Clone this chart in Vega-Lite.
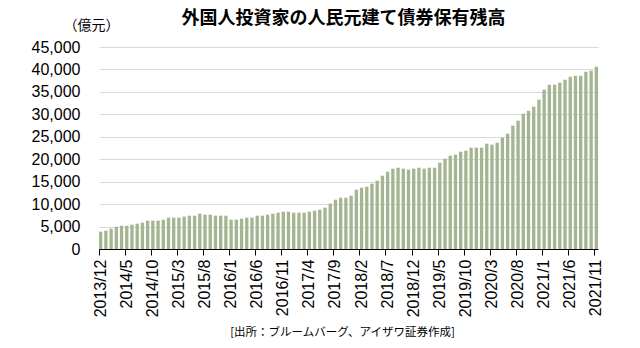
{
  "$schema": "https://vega.github.io/schema/vega-lite/v6.json",
  "autosize": {"type": "none"},
  "width": 499,
  "height": 202,
  "padding": {"left": 99, "top": 47, "right": 42, "bottom": 99},
  "background": "white",
  "title": {
    "text": "外国人投資家の人民元建て債券保有残高",
    "font": "Noto Sans CJK JP",
    "fontSize": 18,
    "fontWeight": "bold",
    "color": "#000000",
    "anchor": "middle",
    "frame": "group",
    "dx": -5,
    "dy": 24,
    "offset": 14
  },
  "data": {
    "values": [
      {"month": "2013/12", "value": 3860},
      {"month": "2014/1", "value": 4080},
      {"month": "2014/2", "value": 4530},
      {"month": "2014/3", "value": 4970},
      {"month": "2014/4", "value": 5200},
      {"month": "2014/5", "value": 5200},
      {"month": "2014/6", "value": 5420},
      {"month": "2014/7", "value": 5640},
      {"month": "2014/8", "value": 5860},
      {"month": "2014/9", "value": 6310},
      {"month": "2014/10", "value": 6310},
      {"month": "2014/11", "value": 6310},
      {"month": "2014/12", "value": 6530},
      {"month": "2015/1", "value": 6980},
      {"month": "2015/2", "value": 6980},
      {"month": "2015/3", "value": 6980},
      {"month": "2015/4", "value": 7200},
      {"month": "2015/5", "value": 7420},
      {"month": "2015/6", "value": 7420},
      {"month": "2015/7", "value": 7870},
      {"month": "2015/8", "value": 7650},
      {"month": "2015/9", "value": 7650},
      {"month": "2015/10", "value": 7420},
      {"month": "2015/11", "value": 7420},
      {"month": "2015/12", "value": 7420},
      {"month": "2016/1", "value": 6530},
      {"month": "2016/2", "value": 6530},
      {"month": "2016/3", "value": 6760},
      {"month": "2016/4", "value": 6980},
      {"month": "2016/5", "value": 6980},
      {"month": "2016/6", "value": 7420},
      {"month": "2016/7", "value": 7420},
      {"month": "2016/8", "value": 7650},
      {"month": "2016/9", "value": 7870},
      {"month": "2016/10", "value": 8090},
      {"month": "2016/11", "value": 8310},
      {"month": "2016/12", "value": 8310},
      {"month": "2017/1", "value": 8090},
      {"month": "2017/2", "value": 8090},
      {"month": "2017/3", "value": 8090},
      {"month": "2017/4", "value": 8310},
      {"month": "2017/5", "value": 8540},
      {"month": "2017/6", "value": 8760},
      {"month": "2017/7", "value": 9210},
      {"month": "2017/8", "value": 10100},
      {"month": "2017/9", "value": 10990},
      {"month": "2017/10", "value": 11430},
      {"month": "2017/11", "value": 11430},
      {"month": "2017/12", "value": 11880},
      {"month": "2018/1", "value": 13210},
      {"month": "2018/2", "value": 13660},
      {"month": "2018/3", "value": 13880},
      {"month": "2018/4", "value": 14550},
      {"month": "2018/5", "value": 15220},
      {"month": "2018/6", "value": 16330},
      {"month": "2018/7", "value": 17220},
      {"month": "2018/8", "value": 17890},
      {"month": "2018/9", "value": 18110},
      {"month": "2018/10", "value": 17890},
      {"month": "2018/11", "value": 17670},
      {"month": "2018/12", "value": 17890},
      {"month": "2019/1", "value": 18110},
      {"month": "2019/2", "value": 17890},
      {"month": "2019/3", "value": 18110},
      {"month": "2019/4", "value": 18110},
      {"month": "2019/5", "value": 19230},
      {"month": "2019/6", "value": 20120},
      {"month": "2019/7", "value": 20790},
      {"month": "2019/8", "value": 21010},
      {"month": "2019/9", "value": 21680},
      {"month": "2019/10", "value": 21900},
      {"month": "2019/11", "value": 22570},
      {"month": "2019/12", "value": 22570},
      {"month": "2020/1", "value": 22570},
      {"month": "2020/2", "value": 23460},
      {"month": "2020/3", "value": 23240},
      {"month": "2020/4", "value": 23680},
      {"month": "2020/5", "value": 24800},
      {"month": "2020/6", "value": 25690},
      {"month": "2020/7", "value": 27470},
      {"month": "2020/8", "value": 28580},
      {"month": "2020/9", "value": 30140},
      {"month": "2020/10", "value": 30810},
      {"month": "2020/11", "value": 31700},
      {"month": "2020/12", "value": 33260},
      {"month": "2021/1", "value": 35490},
      {"month": "2021/2", "value": 36600},
      {"month": "2021/3", "value": 36600},
      {"month": "2021/4", "value": 37050},
      {"month": "2021/5", "value": 37710},
      {"month": "2021/6", "value": 38380},
      {"month": "2021/7", "value": 38600},
      {"month": "2021/8", "value": 38600},
      {"month": "2021/9", "value": 39500},
      {"month": "2021/10", "value": 39720},
      {"month": "2021/11", "value": 40610}
    ]
  },
  "mark": {"type": "bar", "color": "#a5b592"},
  "encoding": {
    "x": {
      "field": "month",
      "type": "ordinal",
      "sort": null,
      "scale": {"paddingInner": 0.36, "paddingOuter": 0},
      "axis": {
        "values": ["2013/12", "2014/5", "2014/10", "2015/3", "2015/8", "2016/1", "2016/6", "2016/11", "2017/4", "2017/9", "2018/2", "2018/7", "2018/12", "2019/5", "2019/10", "2020/3", "2020/8", "2021/1", "2021/6", "2021/11"],
        "bandPosition": 0,
        "labelAngle": -90,
        "labelFont": "Liberation Sans",
        "labelFontSize": 16,
        "labelColor": "#000000",
        "labelPadding": 4,
        "labelOverlap": false,
        "domainColor": "#000000",
        "domainWidth": 1,
        "tickColor": "#000000",
        "tickSize": 6,
        "tickWidth": 1,
        "grid": false,
        "title": "[出所：ブルームバーグ、アイザワ証券作成]",
        "titleFont": "Noto Sans CJK JP",
        "titleFontSize": 11.5,
        "titleFontWeight": "normal",
        "titleColor": "#000000",
        "titleX": 243,
        "titleY": 83,
        "titleBaseline": "middle",
        "titleAlign": "center"
      }
    },
    "y": {
      "field": "value",
      "type": "quantitative",
      "scale": {"domain": [0, 45000], "nice": false},
      "axis": {
        "values": [0, 5000, 10000, 15000, 20000, 25000, 30000, 35000, 40000, 45000],
        "format": ",d",
        "labelFont": "Liberation Sans",
        "labelFontSize": 16,
        "labelColor": "#000000",
        "labelPadding": 19,
        "domain": false,
        "ticks": false,
        "grid": true,
        "gridColor": "#d9d9d9",
        "gridWidth": 1,
        "title": "（億元）",
        "titleFont": "Noto Sans CJK JP",
        "titleFontSize": 14,
        "titleFontWeight": "normal",
        "titleColor": "#000000",
        "titleAngle": 0,
        "titleAlign": "center",
        "titleBaseline": "middle",
        "titleX": -8,
        "titleY": -22
      }
    }
  },
  "config": {"view": {"stroke": null}}
}
